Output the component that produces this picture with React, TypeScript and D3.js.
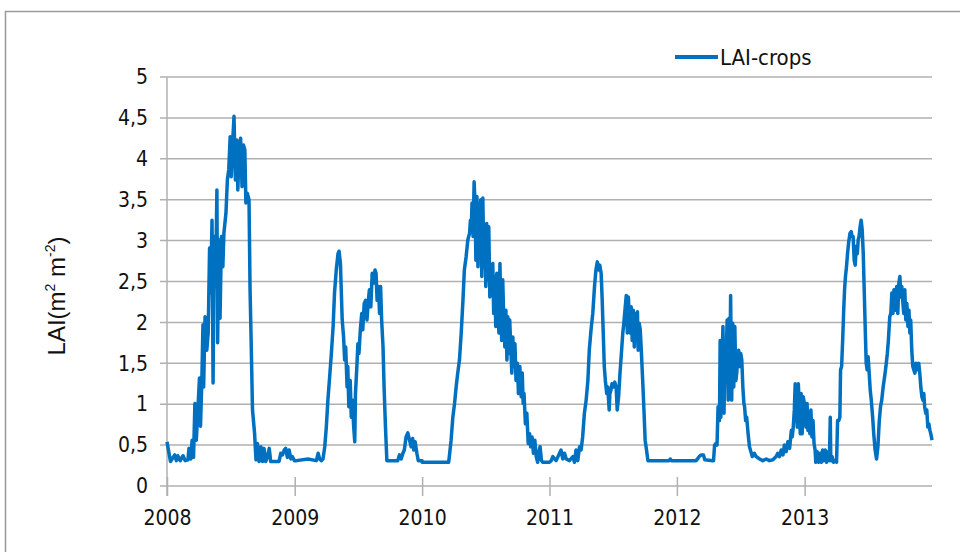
import React, { useEffect, useRef } from 'react';
import * as d3 from 'd3';

// [day of year, LAI], one array per year
const lai2008: [number, number][] = [
  [0, 0.54], [10, 0.3], [22, 0.38], [27, 0.31], [31, 0.37], [38, 0.31], [46, 0.37], [52, 0.31], [60, 0.32],
  [63, 0.46], [68, 0.33], [72, 0.56], [76, 0.35], [80, 1.01], [84, 0.56], [88, 0.89], [93, 1.32], [96, 0.73],
  [100, 1.32], [103, 1.97], [105, 1.21], [109, 2.07], [114, 1.66], [118, 1.87], [122, 2.91], [125, 2.36],
  [129, 3.25], [132, 1.26], [135, 3.05], [139, 2.44], [143, 3.62], [145, 1.75], [149, 3.01], [152, 2.05],
  [156, 3.05], [160, 2.68], [163, 3.09], [169, 3.34], [173, 3.74], [177, 3.87], [181, 4.27], [184, 3.78],
  [188, 4.19], [192, 4.52], [196, 3.74], [200, 4.23], [203, 3.62], [207, 4.15], [211, 4.25], [215, 3.66],
  [219, 4.17], [223, 4.11], [226, 3.46], [230, 3.58], [235, 3.5], [238, 2.4], [241, 1.79], [245, 0.93],
  [251, 0.64], [255, 0.32], [259, 0.52], [264, 0.3], [269, 0.48], [274, 0.3], [278, 0.46], [283, 0.3],
  [288, 0.36], [293, 0.46], [297, 0.3], [321, 0.3], [326, 0.4], [331, 0.38], [336, 0.44], [340, 0.46],
  [345, 0.35], [350, 0.44], [355, 0.33], [359, 0.36], [365, 0.31],
];
const lai2009: [number, number][] = [
  [5, 0.31], [38, 0.33], [62, 0.31], [67, 0.4], [71.5, 0.33], [76, 0.31], [81, 0.33], [86, 0.48], [90.5, 0.72],
  [95, 1.05], [100, 1.33], [105, 1.62], [110, 1.95], [114, 2.36], [119, 2.64], [124, 2.84], [127, 2.87],
  [131, 2.72], [133, 2.44], [136, 2.03], [140, 1.82], [143, 1.54], [146, 1.7], [150, 1.21], [152, 1.46],
  [155, 0.97], [159, 1.29], [162, 0.84], [165, 1.05], [169, 0.72], [172, 0.54], [174, 1.13], [178, 1.46],
  [181, 1.74], [184, 1.62], [188, 1.91], [192, 2.11], [195, 1.91], [199, 2.23], [203, 2.27], [207, 2.03],
  [211, 2.27], [214, 2.4], [218, 2.19], [222, 2.6], [226, 2.48], [230, 2.64], [233, 2.6], [236, 2.27],
  [240, 2.44], [243, 2.11], [246, 2.44], [249, 2.03], [253, 1.7], [256, 1.21], [260, 0.72], [264, 0.31],
  [295, 0.31], [300, 0.38], [305, 0.33], [310, 0.4], [314, 0.44], [319, 0.6], [324, 0.65], [329, 0.56],
  [333.5, 0.48], [338, 0.58], [341, 0.44], [345, 0.54], [350, 0.4], [354, 0.31], [365, 0.31],
];
const lai2010: [number, number][] = [
  [0, 0.29], [76, 0.29], [78, 0.36], [83, 0.56], [88, 0.84], [93, 1.01], [97.5, 1.21], [102, 1.38], [107, 1.54],
  [112, 1.87], [117, 2.27], [121, 2.64], [126, 2.8], [131, 3.01], [136, 3.09], [138.5, 3.25], [141, 3.17],
  [143, 3.46], [146, 3.05], [149, 3.72], [152, 3.42], [154, 2.76], [157, 3.54], [160, 2.68], [162, 3.46],
  [165, 2.97], [168, 3.5], [171, 2.56], [174, 3.52], [177, 2.68], [180, 3.17], [182.5, 2.44], [185, 3.21],
  [188, 2.52], [191, 3.17], [194, 2.31], [197, 2.68], [200, 2.64], [202.5, 2.72], [205, 2.11], [208, 2.56],
  [211, 1.95], [214, 2.6], [217, 2.27], [220, 1.87], [223, 2.72], [225.5, 2.15], [228, 1.78], [231, 2.52],
  [234, 2.03], [237, 1.7], [240, 2.15], [243, 1.54], [245.5, 2.07], [248, 1.62], [251, 2.03], [254, 1.7],
  [257, 1.38], [260, 1.82], [263, 1.46], [266, 1.74], [269, 1.29], [273, 1.5], [276, 1.13], [280, 1.46],
  [284, 1.09], [287, 1.38], [289.5, 1.01], [292, 1.13], [296, 0.76], [300, 0.89], [304, 0.52], [308, 0.64],
  [311, 0.48], [315, 0.6], [319, 0.4], [323, 0.56], [327, 0.36], [331, 0.29], [334, 0.4], [338, 0.48],
  [342, 0.31], [346, 0.29], [365, 0.29],
];
const lai2011: [number, number][] = [
  [5, 0.31], [9.5, 0.36], [19, 0.31], [33, 0.44], [38, 0.33], [43, 0.4], [48, 0.33], [57, 0.31], [67, 0.36],
  [71.5, 0.29], [76, 0.44], [81, 0.31], [86, 0.48], [90.5, 0.44], [95, 0.6], [100, 0.89], [105, 1.05],
  [110, 1.29], [114, 1.66], [119, 1.91], [124, 2.11], [129, 2.44], [133, 2.64], [137, 2.74], [141, 2.64],
  [144, 2.7], [148, 2.6], [151, 2.27], [154, 1.87], [157, 1.46], [160, 1.29], [164, 1.13], [167, 1.21],
  [171, 0.93], [173, 1.13], [176, 1.17], [179, 1.25], [183, 1.21], [187, 1.27], [191, 1.21], [194, 0.93],
  [198, 1.09], [202, 1.38], [206, 1.62], [210, 1.87], [213, 1.99], [217, 2.19], [220, 2.33], [223, 1.87],
  [226, 2.31], [229, 2.03], [232, 1.87], [234, 2.19], [237, 1.78], [240, 2.15], [243, 1.7], [246, 2.11],
  [249, 1.78], [252, 2.13], [254, 1.66], [257, 1.99], [260, 1.91], [263, 1.66], [267, 1.29], [271, 0.89],
  [274, 0.56], [278, 0.44], [282, 0.31], [343, 0.31], [346, 0.33], [349, 0.31], [365, 0.31],
];
const lai2012: [number, number][] = [
  [7, 0.31], [55, 0.31], [59, 0.33], [64, 0.36], [69, 0.38], [76, 0.38], [80, 0.32], [102.5, 0.31], [105, 0.31],
  [108, 0.5], [112, 0.52], [115, 0.5], [118, 0.97], [122, 0.8], [124, 1.78], [126, 0.84], [129, 1.46],
  [132, 1.95], [135, 0.89], [138, 1.74], [141, 1.54], [144, 2.03], [147, 1.05], [149.5, 2.05], [152, 1.5],
  [154, 2.33], [157, 1.05], [160, 1.99], [163, 1.21], [166, 1.95], [169, 1.29], [171.5, 1.38], [174, 1.54],
  [177, 1.66], [180, 1.46], [183, 1.62], [186, 1.54], [189, 1.21], [192, 1.01], [194, 0.97], [197, 0.8],
  [200, 0.84], [204, 0.64], [208, 0.48], [212, 0.42], [216, 0.36], [222, 0.4], [227, 0.36], [237, 0.33],
  [246, 0.31], [256, 0.33], [265, 0.31], [275, 0.32], [284.5, 0.36], [289, 0.4], [294, 0.36], [299, 0.44],
  [304, 0.38], [308, 0.5], [313, 0.42], [318, 0.54], [323, 0.46], [328, 0.68], [330.5, 0.6], [333.5, 0.72],
  [336.5, 0.93], [339, 1.25], [342, 1.21], [345, 0.72], [348, 1.25], [351, 0.93], [353.5, 0.64], [356, 1.13],
  [359, 0.64], [362, 1.09],
];
const lai2013: [number, number][] = [
  [1, 0.97], [4, 0.72], [7, 1.01], [9.5, 0.68], [12, 0.89], [15, 0.64], [18, 0.93], [21, 0.6], [24, 0.8],
  [27, 0.52], [30, 0.44], [32, 0.29], [36, 0.42], [40, 0.29], [44, 0.4], [48, 0.29], [51.5, 0.44], [55, 0.31],
  [59, 0.44], [63, 0.29], [67, 0.42], [71, 0.31], [73.5, 0.84], [75, 0.31], [79, 0.36], [83, 0.29], [88, 0.31],
  [91.5, 0.29], [94.5, 0.8], [98, 0.8], [101, 0.84], [103, 1.42], [106, 1.46], [109, 1.78], [112, 2.15],
  [114.5, 2.4], [117, 2.56], [120, 2.68], [123, 2.84], [126, 2.97], [130, 3.09], [133.5, 3.11], [136, 3.05],
  [139, 3.05], [142, 2.76], [145, 2.7], [148, 2.93], [151, 2.84], [153.5, 3.01], [156, 3.05], [159, 3.17],
  [162, 3.25], [165, 3.13], [168, 2.84], [171, 2.36], [174, 1.87], [176.5, 1.5], [179, 1.42], [182, 1.58],
  [185, 1.38], [188, 1.17], [191, 1.05], [195, 0.84], [198, 0.64], [202, 0.44], [206, 0.33], [210, 0.48],
  [214, 0.8], [217.5, 0.97], [221, 1.05], [225, 1.21], [229, 1.33], [233, 1.46], [237, 1.62], [240, 1.78],
  [244, 2.07], [247, 2.11], [250, 2.36], [253, 2.11], [256, 2.4], [258.5, 2.15], [261, 2.36], [264, 2.44],
  [267, 2.11], [270, 2.48], [273, 2.56], [276, 2.31], [278.5, 2.44], [281, 2.27], [284, 2.11], [287, 2.4],
  [290, 2.03], [293, 2.23], [296, 1.95], [299, 2.15], [301.5, 1.87], [304, 2.03], [307, 1.66], [310, 1.46],
  [313, 1.42], [316, 1.38], [319, 1.5], [321.5, 1.42], [324, 1.46], [327, 1.5], [330, 1.38], [333, 1.21],
  [336, 1.09], [339, 1.05], [341.5, 1.13], [344, 0.97], [347, 0.89], [350, 0.93], [353, 0.72], [356, 0.76],
  [359, 0.68], [361.5, 0.64], [365, 0.56],
];

const years = [2008, 2009, 2010, 2011, 2012, 2013];
const seasons = [lai2008, lai2009, lai2010, lai2011, lai2012, lai2013];
const yTicks = [0, 0.5, 1, 1.5, 2, 2.5, 3, 3.5, 4, 4.5, 5];
const seriesName = 'LAI-crops';

const FONT = "'Liberation Sans Narrow', 'Arial Narrow', 'DejaVu Sans Condensed', sans-serif";
const BLUE = '#0070c0';

const App = () => {
  const ref = useRef<SVGSVGElement>(null);

  useEffect(() => {
    const svg = d3.select(ref.current);
    svg.selectAll('*').remove();

    const left = 167, right = 932, top = 77, bottom = 486;

    const x = d3.scaleTime().domain([new Date(2008, 0, 1), new Date(2014, 0, 1)]).range([left, right]);
    const y = d3.scaleLinear().domain([0, 5]).range([bottom, top]);

    const points = years.flatMap((yr, i) =>
      seasons[i].map(([day, v]) => ({ date: new Date(new Date(yr, 0, 1).getTime() + day * 86400000), v }))
    );

    // chart frame
    svg.append('rect')
      .attr('x', 5.5).attr('y', 11.5).attr('width', 1000).attr('height', 600)
      .attr('fill', 'white').attr('stroke', '#9a9a9a').attr('stroke-width', 1.5);

    // gridlines
    svg.append('g').selectAll('line').data(yTicks).enter().append('line')
      .attr('x1', left - 7).attr('x2', right)
      .attr('y1', (d) => y(d)).attr('y2', (d) => y(d))
      .attr('stroke', '#b0b0b0').attr('stroke-width', 1.5);

    // y axis
    const yAxis = svg.append('g')
      .attr('transform', `translate(${left},0)`)
      .call(d3.axisLeft(y).tickValues(yTicks).tickSize(7).tickPadding(12)
        .tickFormat((d) => String(d).replace('.', ',')));
    yAxis.select('.domain').remove();
    yAxis.selectAll('.tick line').remove();
    yAxis.selectAll('text').attr('font-family', FONT).attr('font-size', 21).attr('fill', '#111');
    svg.append('line')
      .attr('x1', left).attr('x2', left).attr('y1', top).attr('y2', bottom + 10)
      .attr('stroke', '#b0b0b0').attr('stroke-width', 1.5);

    // x axis
    const xAxis = svg.append('g')
      .attr('transform', `translate(0,${bottom})`)
      .call(d3.axisBottom(x).tickValues(years.map((yr) => new Date(yr, 0, 1))).tickSize(10).tickPadding(14)
        .tickFormat((d) => d3.timeFormat('%Y')(d as Date)));
    xAxis.select('.domain').remove();
    xAxis.selectAll('.tick line').attr('y1', -9).attr('stroke', '#b0b0b0').attr('stroke-width', 1.5);
    xAxis.selectAll('text').attr('font-family', FONT).attr('font-size', 21).attr('fill', '#111');

    // series
    const line = d3.line<{ date: Date; v: number }>().x((d) => x(d.date)).y((d) => y(d.v));
    svg.append('path')
      .datum(points)
      .attr('d', line)
      .attr('fill', 'none')
      .attr('stroke', BLUE)
      .attr('stroke-width', 3.5)
      .attr('stroke-linejoin', 'round');

    // legend
    svg.append('line')
      .attr('x1', 675).attr('x2', 718).attr('y1', 57).attr('y2', 57)
      .attr('stroke', BLUE).attr('stroke-width', 4);
    svg.append('text')
      .attr('x', 720).attr('y', 57).attr('dy', '0.35em')
      .attr('font-family', FONT).attr('font-size', 22).attr('fill', '#111')
      .text(seriesName);

    // y title
    const title = svg.append('text')
      .attr('transform', 'translate(65,296) rotate(-90)')
      .attr('text-anchor', 'middle')
      .attr('font-family', "'Liberation Sans', Arial, sans-serif")
      .attr('font-size', 24).attr('fill', '#111');
    title.append('tspan').text('LAI(m');
    title.append('tspan').attr('font-size', 14).attr('dy', -10).text('2');
    title.append('tspan').attr('dy', 10).text(' m');
    title.append('tspan').attr('font-size', 14).attr('dy', -10).text('-2');
    title.append('tspan').attr('dy', 10).text(')');
  }, []);

  return (
    <svg ref={ref} width={960} height={552} style={{ position: 'absolute', left: 0, top: 0 }} />
  );
};

export default App;
